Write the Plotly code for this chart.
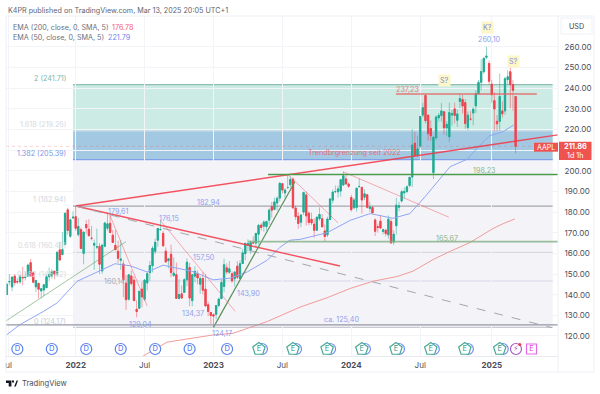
import pandas as pd
import plotly.graph_objects as go

open_2021 = [140.1,146.2,143.75,148.99,146.4,146.2,148.5,148.3,149,155.5,150.6,143.8,145.5,141.8,142.3,143.4,148.7,148.99,151.4,150,161.7,159.4,164.3,181.1,168.3,177.1]
high_2021 = [145.65,150,148.7,150,148,149.4,153.5,150.9,155,157.3,151.4,147.1,145.7,142.9,144.9,149.8,153.2,152.4,151.6,161,165.7,170.3,179.6,182.1,176.9,180.4]
low_2021 = [140.07,144.6,141.67,144.4,145.2,145.3,144.6,146.8,148.6,148.7,145.8,141.3,138.3,138.3,139.2,143.2,146.4,147.8,147.5,149.1,156.4,159.2,163.9,169.1,167.5,177]
close_2021 = [145.11,146.39,148.56,145.86,146.14,149.1,148.19,148.6,154.3,148.97,146.06,146.92,142.65,142.9,144.84,148.69,149.8,151.28,149.99,160.55,156.81,161.84,179.45,171.14,176.28,177.57]

open_2022 = [177.8,169.1,171.5,160,174,171.7,167.4,164,163.1,163.4,151.5,163.5,172.2,174.6,168.8,163.9,161.1,156.7,154.9,145.6,137.8,149.1,147,132.9,133.4,142.7,137.8,145.7,150.7,154,161,166.4,171.5,169.7,161.1,156.5,159.6,149.3,149.7,138.2,140.4,141.1,147.2,153.2,137.1,148.97,150.2,145.1,147.8,142.7,135.1,131.4]
high_2022 = [182.94,177.2,172.5,170.4,176.2,176.6,173.3,166.7,172,165,164.5,175.3,179.6,178.5,171.3,171.3,166.2,166.5,156.7,149.5,149.7,151.7,149,137.3,141.9,146.2,147.6,150.9,156.3,163.6,167.2,172.2,176.15,171,162.9,157.8,164.3,158.1,155.6,147.5,144.5,148,157.5,155.4,150,153.8,151.8,148.9,150.9,149.97,136.6,131.4]
low_2022 = [171,168.2,162.3,154.7,169.5,168,166.3,152,162,150.1,150.1,163,171,169.9,165,161.5,155.4,152,138.8,132.6,137.1,144.5,137.1,129.04,133.3,133.8,136.9,142.1,146.7,150.8,159.6,163.2,171.3,163.6,155.8,152.7,148.4,148.6,138,137.7,138,141,144.1,134.4,134.4,146.1,145,140.4,140,134.4,129.6,125.9]
close_2022 = [172.17,173.07,162.41,170.33,172.39,168.64,167.3,164.85,163.17,154.73,163.98,174.72,174.31,170.09,165.29,161.79,157.65,157.28,147.11,137.59,149.64,145.38,137.13,131.88,141.66,138.93,147.04,150.17,154.09,162.51,165.35,172.1,171.52,163.62,155.81,157.37,150.7,150.43,138.2,140.09,138.38,147.27,155.74,138.38,149.7,151.29,148.11,147.81,142.16,134.51,131.86,129.93]

open_2023 = [130.3,130.5,134.8,138.1,144,153,150.9,150.1,147.7,153.8,147.8,155.1,159.9,164.3,161.4,165.1,165,169.3,173.7,173.2,173,176.1,182.6,181.3,184.4,186.8,193.8,189.3,191.9,193.3,196,182,177.97,175.1,180,188.3,179.5,176.5,174.2,171.2,176.8,176.8,170.9,169,176.4,185.8,189.9,189.8,190.2,193.1,196.1,193.6]
high_2023 = [130.9,134.9,138.6,147.2,157.4,155.2,156.3,151.3,151.1,156.3,156.7,162.1,165,166.8,166.3,168.2,169.9,174.3,174.6,176,175.8,181.8,184.9,186.99,187.6,194.5,193.9,191.7,198.23,197.2,196.7,183.1,180,179,189.9,189.98,180.3,179.7,176.97,177.99,182.3,179.1,174,177.8,186.6,190.9,192.9,192.9,195.99,199.6,198,194.4]
low_2023 = [124.17,128.1,133.9,137.9,141.3,149.9,150,145.7,143.9,147.6,147.6,155,156.7,161,159.8,164.9,162.8,164.3,171,170.5,171,173.9,177.3,180.97,180.8,185.2,189,186.6,191.2,191.9,181.9,176.2,171.96,172.6,178.6,173.5,173.6,173.7,167.6,170.82,175.8,172.6,165.67,167.9,176.2,184.2,189.2,187.1,187.5,192.97,193.7,191.7]
close_2023 = [129.62,134.76,137.87,145.93,154.5,151,152.55,146.71,151.03,148.5,155,160.25,164.9,164.66,165.21,165.02,169.68,173.57,172.57,175.16,175.43,180.95,180.96,184.92,186.68,193.97,190.68,190.69,191.94,195.83,181.99,177.79,174.49,178.61,189.46,178.18,175.01,174.79,171.21,177.49,178.85,172.88,168.22,176.65,186.4,189.69,189.97,191.24,195.71,197.57,193.6,192.53]

open_2024 = [187.1,182.1,182.2,192.3,192,187.2,188.4,181.8,182.2,176.2,172.9,175.6,170.6,171.2,169,175.4,165.5,173.4,182.4,185.4,189.3,190,192.9,197,213.4,207.7,212,227,236.5,227,220.5,199.1,216,225.7,226.8,228.6,220.8,216.5,227,230,224.5,233.6,234.5,233,221,225,228,231.5,237.3,242.9,248,255,252]
high_2024 = [188.4,187,191.9,196.4,192.2,191,188.7,185,183,177,174.4,178.7,172,171.9,178.4,176.8,171.3,187,185,190.8,192,193,196.9,220.2,218.9,217,226.5,233,237.23,226.9,224.5,216.8,226.8,228,232.9,229,224,233,229.5,233,229.8,237.5,236.9,234.7,228.7,228.9,230.7,239,244,254,255,260.1,253.5]
low_2024 = [180.2,181.5,180.3,191.9,179.25,185.8,181.7,180,179.3,168.5,170,172,169.2,168.2,167.1,165,164.1,169.1,180.4,184.6,186.6,189.1,192,192.2,207,206.6,211,226,223,214.6,214.6,196,215,223.9,223.9,217.5,216.7,213.9,221.9,223,221.3,230.4,227.8,220.3,219.7,224.3,222,228,237,238.9,247,254,241.8]
close_2024 = [181.18,185.92,191.56,192.42,185.85,188.85,182.31,182.52,179.66,170.73,172.62,172.28,171.48,169.58,176.55,165,169.3,183.38,183.05,189.87,189.98,192.25,196.89,212.49,207.49,210.62,226.34,230.54,224.31,218,217,216.24,226.05,226.84,229,220.82,222.5,228.2,227.8,226.8,227.55,235,231.4,222.9,226.96,225,229.87,237.33,242.84,248.13,254.49,255.59,243.36]

open_2025 = [242,234,224,224,229,229,244.2,248,241.8,236]
high_2025 = [244,238,227,247.2,233.7,245.5,248.7,250,244,236.2]
low_2025 = [233,219.4,219.4,219.4,225.7,227.2,241.8,230.2,229.2,208.4]
close_2025 = [236.85,229.98,222.78,236,227.63,244.6,245.55,241.84,239,211.86]

opens = open_2021 + open_2022 + open_2023 + open_2024 + open_2025
highs = high_2021 + high_2022 + high_2023 + high_2024 + high_2025
lows = low_2021 + low_2022 + low_2023 + low_2024 + low_2025
closes = close_2021 + close_2022 + close_2023 + close_2024 + close_2025
weeks = pd.date_range("2021-07-05", periods=len(opens), freq="W-MON")

ema50_dates = ["2021-07-05","2021-08-09","2021-10-09","2021-11-15","2022-01-07","2022-03-01","2022-04-17","2022-05-27","2022-07-11","2022-08-22","2022-09-28","2022-11-09","2023-01-01","2023-02-15","2023-04-01","2023-05-24","2023-06-27","2023-07-23","2023-08-19","2023-10-29","2023-12-29","2024-02-20","2024-04-20","2024-06-04","2024-07-14","2024-09-18","2024-11-02","2024-12-06","2025-01-01","2025-02-05","2025-03-05"]
ema50_vals = [120.6,125.5,131.8,136,146.5,151,155,154,151,154.3,153,151.2,147.2,148,151,156.7,163,166.4,166.8,170,176,179.3,177,179.3,187.5,202,205.6,212.5,217,219,222.2]
ema200_dates = ["2022-06-09","2022-09-01","2023-01-01","2023-02-23","2023-05-24","2023-08-19","2023-10-29","2023-12-29","2024-02-27","2024-05-01","2024-06-12","2024-08-04","2024-09-18","2024-11-09","2025-01-07","2025-02-05","2025-03-08"]
ema200_vals = [108,117,120.5,121.3,127,134,138.5,143,146.5,148.8,151.4,157,161,165.2,171.8,174.4,176.7]

x_start, x_end = "2021-07-03", "2025-06-30"
fib_left, fib_right = "2021-12-27", "2025-06-16"
fib_levels = [241.71, 219.26, 205.39, 182.94, 160.49, 146.62, 124.17]
fib_ratios = ["2", "1.618", "1.382", "1", "0.618", "0.382", "0"]
tick_vals = ["2021-07-10","2022-01-03","2022-07-04","2023-01-02","2023-07-03","2024-01-01","2024-07-01","2025-01-06"]
tick_text = ["ul","<b>2022</b>","Jul","<b>2023</b>","Jul","<b>2024</b>","Jul","<b>2025</b>"]
price_ticks = list(range(120, 270, 10))
dividend_only = ["2021-08-02","2021-11-01","2022-01-31","2022-05-02","2022-08-01","2022-10-31","2023-02-07"]
earnings = ["2023-05-02","2023-07-31","2023-10-29","2024-01-29","2024-04-28","2024-07-29","2024-10-27","2025-01-27"]
dividend_near = ["2023-05-10","2023-08-08","2023-11-06","2024-02-06","2024-05-06","2024-08-06","2024-11-04","2025-02-04"]
split_event = ["2025-03-11"]
next_earnings = ["2025-04-21"]
EVENT_ROW = 113.7

RED_T = "rgba(242,54,69,0.85)"
RED_F = "rgba(242,90,100,0.55)"
lines = [
    (["2022-01-03", x_end], [182.94, 217.4], RED_T, 1.4, "solid"),
    (["2022-01-03", "2023-12-02"], [182.94, 153.9], RED_T, 1.4, "solid"),
    (["2022-01-03", "2025-06-14"], [182.94, 124.0], "#a4a6ad", 1, "dash"),
    (["2021-07-03", "2022-05-16"], [127.3, 165.7], "rgba(90,150,90,0.7)", 0.8, "solid"),
    (["2023-01-02", "2023-08-05"], [124.17, 194.7], "#5a8f58", 1.2, "solid"),
    (["2022-04-01", "2022-07-11"], [179.6, 134.5], RED_F, 0.9, "solid"),
    (["2022-08-14", "2023-02-28"], [176.15, 132.0], RED_F, 0.9, "solid"),
    (["2023-07-18", "2023-11-27"], [198.2, 174.8], RED_F, 0.9, "solid"),
    (["2023-12-10", "2024-09-15"], [199.6, 177.5], RED_F, 0.9, "solid"),
    (["2023-05-26", x_end], [198.23, 198.23], "#4c9a4c", 1.4, "solid"),
    (["2024-04-28", "2025-05-05"], [237.23, 237.23], "rgba(232,100,100,0.85)", 1.4, "solid"),
    (["2023-04-03", x_end], [165.67, 165.67], "rgba(130,175,130,0.8)", 1.8, "solid"),
    ([x_start, x_end], [125.4, 125.4], "#9598a6", 1.1, "solid"),
]

def px(x): return (x - 6) / 552
def py(y): return (356 - y) / 340

fig = go.Figure()
fig.add_trace(go.Candlestick(x=weeks, open=opens, high=highs, low=lows, close=closes, whiskerwidth=0,
    increasing=dict(line=dict(color="rgba(34,171,148,0.5)", width=1), fillcolor="#22ab94"),
    decreasing=dict(line=dict(color="rgba(242,54,69,0.45)", width=1), fillcolor="#f23645"), hoverinfo="skip"))
fig.add_trace(go.Candlestick(x=weeks, open=opens, close=closes,
    high=[max(a, b) for a, b in zip(opens, closes)], low=[min(a, b) for a, b in zip(opens, closes)], whiskerwidth=0,
    increasing=dict(line=dict(color="#22ab94", width=0.8), fillcolor="#22ab94"),
    decreasing=dict(line=dict(color="#f0454f", width=0.8), fillcolor="#f0454f"), hoverinfo="skip"))
fig.add_trace(go.Scatter(x=ema50_dates, y=ema50_vals, mode="lines", line=dict(color="#8fa6f5", width=1), hoverinfo="skip"))
fig.add_trace(go.Scatter(x=ema200_dates, y=ema200_vals, mode="lines", line=dict(color="#f29a9a", width=1), hoverinfo="skip"))
for xs, ys, col, w, dash in lines:
    fig.add_trace(go.Scatter(x=xs, y=ys, mode="lines", line=dict(color=col, width=w, dash=dash), hoverinfo="skip"))
fig.add_trace(go.Scatter(x=[x_start, x_end], y=[211.86, 211.86], mode="lines", line=dict(color="rgba(242,54,69,0.3)", width=0.7, dash="dot"), hoverinfo="skip"))

fig.add_trace(go.Scatter(x=dividend_near, y=[EVENT_ROW]*len(dividend_near), mode="markers",
    marker=dict(symbol="circle", size=11, color="white", line=dict(color="#6f8df0", width=1.2)), hoverinfo="skip"))
fig.add_trace(go.Scatter(x=dividend_only, y=[EVENT_ROW]*len(dividend_only), mode="markers+text", text=["D"]*len(dividend_only),
    textposition="middle center", textfont=dict(color="#3f6df0", size=7.5, family="Inter"),
    marker=dict(symbol="circle", size=11, color="white", line=dict(color="#5b82f0", width=1.2)), hoverinfo="skip"))
fig.add_trace(go.Scatter(x=earnings, y=[EVENT_ROW]*len(earnings), mode="markers+text", text=["E"]*len(earnings),
    textposition="middle center", textfont=dict(color="#2f9c86", size=7.5, family="Inter"),
    marker=dict(symbol="pentagon", size=13, color="white", line=dict(color="#48a996", width=1.2)), hoverinfo="skip"))
fig.add_trace(go.Scatter(x=split_event, y=[EVENT_ROW], mode="markers+text", text=["⚡"],
    textposition="middle center", textfont=dict(color="#a040c0", size=7.5, family="DejaVu Sans"),
    marker=dict(symbol="circle", size=11, color="white", line=dict(color="#a85ac8", width=1.2)), hoverinfo="skip"))
fig.add_trace(go.Scatter(x=next_earnings, y=[EVENT_ROW], mode="markers+text", text=["E"],
    textposition="middle center", textfont=dict(color="#e040e8", size=7.5, family="Inter"),
    marker=dict(symbol="square", size=10, color="white", line=dict(color="#e56ae8", width=1.2)), hoverinfo="skip"))

shapes = []
zone_fill = ["rgba(172,222,212,0.62)", "rgba(120,175,212,0.68)", "#f4f4f8"]
for (hi, lo), fc in zip([(fib_levels[0], fib_levels[1]), (fib_levels[1], fib_levels[2]), (fib_levels[2], fib_levels[6])], zone_fill):
    shapes.append(dict(type="rect", xref="x", yref="y", x0=fib_left, x1=fib_right, y0=lo, y1=hi, fillcolor=fc, line_width=0, layer="below"))
fib_line_col = ["#8dbfb3", "#bcd6e4", "#7f9fe8", "#a5a7b0", "#d9dadf", "#d6d6e6", "#c9cad2"]
for lev, col in zip(fib_levels, fib_line_col):
    shapes.append(dict(type="line", xref="x", yref="y", x0=fib_left, x1=fib_right, y0=lev, y1=lev, line=dict(color=col, width=1.2), layer="below"))
frame = "#eef0f5"
shapes += [
    dict(type="line", xref="paper", yref="paper", x0=px(6), x1=px(594), y0=py(16), y1=py(16), line=dict(color=frame, width=1)),
    dict(type="line", xref="paper", yref="paper", x0=px(6), x1=px(594), y0=py(372), y1=py(372), line=dict(color=frame, width=1)),
    dict(type="line", xref="paper", yref="paper", x0=px(6), x1=px(6), y0=py(16), y1=py(372), line=dict(color=frame, width=1)),
    dict(type="line", xref="paper", yref="paper", x0=px(594), x1=px(594), y0=py(16), y1=py(372), line=dict(color=frame, width=1)),
    dict(type="line", xref="paper", yref="paper", x0=px(558), x1=px(558), y0=py(16), y1=py(372), line=dict(color=frame, width=1)),
    dict(type="rect", xref="paper", yref="paper", x0=px(534), x1=px(558), y0=py(151.7), y1=py(142.7), fillcolor="#ef5350", line_width=0),
    dict(type="rect", xref="paper", yref="paper", x0=px(559), x1=px(591.5), y0=py(160), y1=py(141.7), fillcolor="#ef5350", line_width=0),
    dict(type="rect", xref="paper", yref="paper", x0=px(561), x1=px(592), y0=py(34), y1=py(18), fillcolor="white", line=dict(color=frame, width=1)),
    dict(type="circle", xref="paper", yref="paper", x0=px(518.3), x1=px(521.3), y0=py(346), y1=py(343), fillcolor="#f23645", line_width=0),
]
def poly(points):
    return "M" + " L".join(f"{px(a):.5f},{py(b):.5f}" for a, b in points) + " Z"
logo = poly([(6,380.5),(11.4,380.5),(11.4,386.5),(8.7,386.5),(8.7,383),(6,383)]) + " " + poly([(14.2,386.5),(16.6,380.5),(18,380.5),(15.8,386.5)]) + " " + poly([(12,380.5),(14,380.5),(14,382.5),(12,382.5)])
shapes.append(dict(type="path", xref="paper", yref="paper", path=logo, fillcolor="#131722", line_width=0))

SIZE = 7.2
anns = []
def t(x, y, s, color, size=SIZE, anchor="center", bg=None, family="Inter"):
    anns.append(dict(xref="paper", yref="paper", x=px(x), y=py(y), text=s, showarrow=False, xanchor=anchor, yanchor="middle",
                     font=dict(color=color, size=size, family=family), bgcolor=bg, borderpad=1))
GREY = "#6b6f7d"
BL = "#8ea0ee"
t(6, 10.5, "K4PR published on TradingView.com, Mar 13, 2025 20:05 UTC+1", "#5f6370", SIZE, "left")
t(11, 27, "EMA (200, close, 0, SMA, 5)", GREY, SIZE, "left")
t(110, 27, "176.78", "#f2606a", SIZE, "left")
t(11, 37, "EMA (50, close, 0, SMA, 5)", GREY, SIZE, "left")
t(106, 37, "221.79", "#6f86ee", SIZE, "left")
fib_text_col = ["#7db5a8", "#d6d8de", "#7f97e6", "#d2d4da", "#d6d8de", "#d6d8de", "#c9cbd3"]
for ratio, lev, col, yy in zip(fib_ratios, fib_levels, fib_text_col, [78, 124, 153, 199, 245, 274, 321]):
    t(67.5, yy, f"{ratio} ({lev:.2f})", col, SIZE, "right")
for x, y, s, col in [
    (118.5, 211, "179,61", BL), (169, 218, "176,15", BL), (208.5, 202, "182,94", BL), (204, 257, "157,50", BL),
    (114, 281, "160,14", "#a9abb3"), (248, 293, "143,90", BL), (193, 313, "134,37", BL), (140, 324, "129,04", BL),
    (222, 333, "124,17", BL), (342, 319.5, "ca. 125,40", BL), (489.5, 40, "260,10", BL),
    (407.5, 89.5, "237,23", "#e77f85"), (354, 152.5, "Trendbrgrenzung seit 2022", "#e0727a"),
    (484, 170.5, "198,23", "#8cb58c"), (447, 238, "165,67", "#8cb58c")]:
    t(x, y, s, col, SIZE)
for x, y, s in [(487, 28, "K?"), (513, 62, "S?"), (444, 80, "S?")]:
    t(x, y, s, "#7d8fd8", SIZE, bg="#fdf6c8")
t(546, 147.2, "AAPL", "white", 7, family="Inter")
t(575.3, 146.5, "<b>211.86</b>", "white", 7.4)
t(575.3, 155, "1d 1h", "white", 7.2)
t(576.5, 26, "USD", "#3b3f4c", 7.2)
t(20, 383, "TradingView", "#4a4e5a", 7.6, "left")

fig.update_layout(
    width=600, height=394, autosize=False, showlegend=False, plot_bgcolor="white", paper_bgcolor="white",
    margin=dict(l=6, r=42, t=16, b=38, pad=0), shapes=shapes, annotations=anns,
    font=dict(family="Inter", size=8, color="#4a4e5a"),
    xaxis=dict(range=[x_start, x_end], type="date", rangeslider_visible=False, tickmode="array", tickvals=tick_vals, ticktext=tick_text,
               showgrid=True, gridcolor="#f3f4f7", gridwidth=1, ticks="outside", ticklen=1, tickcolor="rgba(0,0,0,0)",
               showline=True, linecolor="#e8eaef", linewidth=1, zeroline=False, tickangle=0),
    yaxis=dict(range=[110.3, 275], side="right", tickmode="array", tickvals=price_ticks,
               ticktext=["" if v == 210 else f"{v:.2f}" for v in price_ticks],
               showgrid=True, gridcolor="#f3f4f7", gridwidth=1, ticks="outside", ticklen=4, tickcolor="rgba(0,0,0,0)",
               showline=False, zeroline=False),
)
fig.write_html("out.html", config={"displayModeBar": False},
               post_script="document.body.style.margin='0';document.body.style.overflow='hidden';")
